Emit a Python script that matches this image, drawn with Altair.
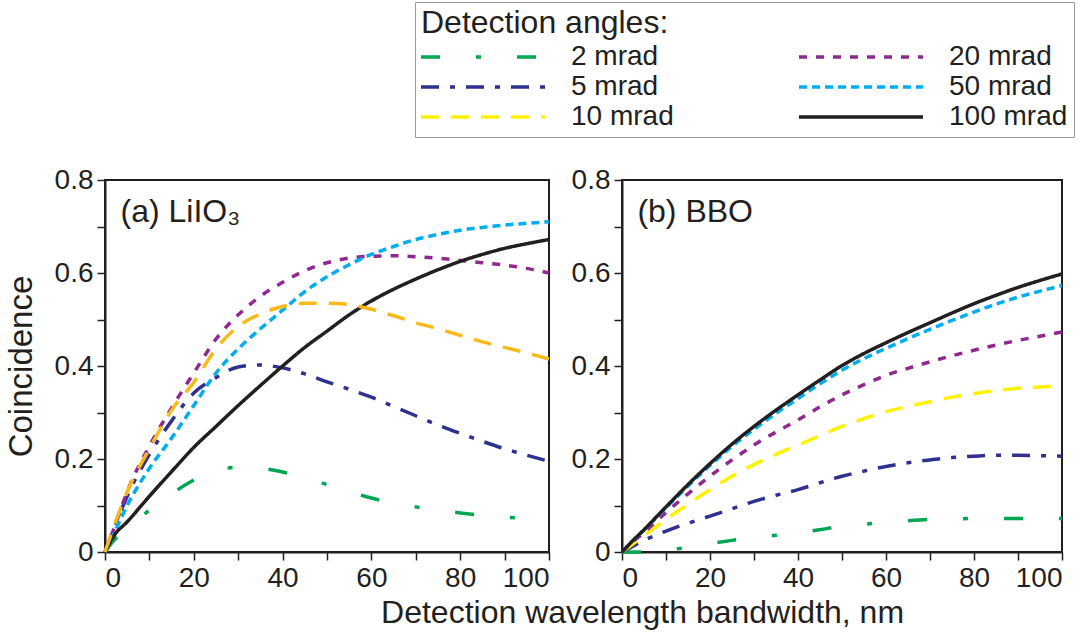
import altair as alt
import pandas as pd

# ---------------- data ----------------
x_nm = [0, 2, 5, 10, 15, 20, 25, 30, 35, 40, 45, 50, 55, 60, 65, 70, 75, 80, 85, 90, 95, 100]

# (a) LiIO3
a_2 = [0, 0.025, 0.05, 0.09, 0.125, 0.155, 0.175, 0.182, 0.18, 0.172, 0.16, 0.145, 0.13, 0.116, 0.105, 0.097, 0.09, 0.084, 0.079, 0.075, 0.072, 0.07]
a_5 = [0, 0.05, 0.12, 0.21, 0.282, 0.342, 0.375, 0.398, 0.402, 0.396, 0.383, 0.366, 0.35, 0.333, 0.313, 0.293, 0.273, 0.255, 0.238, 0.222, 0.208, 0.195]
a_10 = [0, 0.055, 0.13, 0.222, 0.305, 0.365, 0.437, 0.485, 0.512, 0.528, 0.535, 0.535, 0.532, 0.522, 0.508, 0.493, 0.48, 0.466, 0.452, 0.44, 0.428, 0.415]
a_20 = [0, 0.05, 0.13, 0.228, 0.31, 0.385, 0.458, 0.51, 0.55, 0.58, 0.605, 0.622, 0.632, 0.636, 0.637, 0.635, 0.632, 0.627, 0.622, 0.617, 0.61, 0.60]
a_50 = [0, 0.04, 0.1, 0.18, 0.245, 0.315, 0.385, 0.437, 0.48, 0.52, 0.56, 0.592, 0.618, 0.64, 0.657, 0.672, 0.683, 0.692, 0.698, 0.703, 0.707, 0.71]
a_100 = [0, 0.035, 0.065, 0.12, 0.173, 0.225, 0.27, 0.315, 0.358, 0.40, 0.44, 0.475, 0.51, 0.54, 0.565, 0.587, 0.607, 0.625, 0.64, 0.653, 0.663, 0.672]

# (b) BBO
b_2 = [0, 0.0, 0.0, 0.004, 0.01, 0.018, 0.025, 0.031, 0.036, 0.041, 0.048, 0.056, 0.06, 0.063, 0.067, 0.07, 0.071, 0.072, 0.072, 0.072, 0.072, 0.072]
b_5 = [0, 0.01, 0.025, 0.045, 0.062, 0.077, 0.093, 0.109, 0.122, 0.134, 0.149, 0.163, 0.174, 0.184, 0.192, 0.198, 0.203, 0.206, 0.208, 0.208, 0.207, 0.206]
b_10 = [0, 0.014, 0.035, 0.07, 0.103, 0.134, 0.163, 0.188, 0.21, 0.23, 0.25, 0.27, 0.287, 0.302, 0.313, 0.323, 0.333, 0.341, 0.347, 0.352, 0.355, 0.357]
b_20 = [0, 0.018, 0.042, 0.085, 0.125, 0.163, 0.198, 0.23, 0.258, 0.284, 0.312, 0.338, 0.36, 0.38, 0.395, 0.409, 0.422, 0.434, 0.445, 0.455, 0.464, 0.473]
b_50 = [0, 0.02, 0.047, 0.095, 0.142, 0.186, 0.227, 0.264, 0.298, 0.33, 0.362, 0.391, 0.416, 0.438, 0.459, 0.479, 0.498, 0.516, 0.533, 0.548, 0.561, 0.573]
b_100 = [0, 0.02, 0.048, 0.097, 0.145, 0.19, 0.232, 0.27, 0.305, 0.338, 0.37, 0.401, 0.427, 0.45, 0.472, 0.493, 0.514, 0.534, 0.552, 0.569, 0.584, 0.598]

angles = ["2 mrad", "5 mrad", "10 mrad", "20 mrad", "50 mrad", "100 mrad"]
line_colors = ["#00a651", "#2e3192", "#fff200", "#92278f", "#00aeef", "#231f20"]
line_dashes = [[19, 36, 5, 36], [18, 11, 5, 11], [18, 12], [8, 9], [8, 5], [1, 0]]
gold_10_mrad_a = "#f9b918"

x_tick_values = [0, 10, 20, 30, 40, 50, 60, 70, 80, 90, 100]
y_tick_values = [0, 0.1, 0.2, 0.3, 0.4, 0.5, 0.6, 0.7, 0.8]

panel_labels = ["(a) LiIO\u2083", "(b) BBO"]
label_pos_x = [3.5]
label_pos_y = [0.71]

FONT = "Liberation Sans"
INK = "#231f20"


def long_df(series):
    rows = []
    for name, vals in zip(angles, series):
        for xv, yv in zip(x_nm, vals):
            rows.append({"nm": xv, "c": yv, "angle": name})
    return pd.DataFrame(rows)


df_a = long_df([a_2, a_5, a_10, a_20, a_50, a_100])
df_b = long_df([b_2, b_5, b_10, b_20, b_50, b_100])

legend = alt.Legend(
    title="Detection angles:",
    orient="none",
    legendX=310,
    legendY=-178,
    columns=2,
    columnPadding=118,
    rowPadding=2,
    padding=6,
    symbolType="M-1.4,0H11",
    symbolSize=400,
    symbolStrokeWidth=3.5,
    labelOffset=122,
    labelFontSize=28,
    labelFont=FONT,
    labelColor=INK,
    labelLimit=300,
    titleFontSize=32,
    titleFont=FONT,
    titleFontWeight="normal",
    titleColor=INK,
    titlePadding=3,
    titleLimit=500,
    strokeColor="#9a9a9a",
    fillColor="white",
)

color_scale = alt.Scale(domain=angles, range=line_colors)
dash_scale = alt.Scale(domain=angles, range=line_dashes)

x_enc = alt.X(
    "nm:Q",
    scale=alt.Scale(domain=[0, 100], nice=False),
    axis=alt.Axis(
        values=x_tick_values,
        labelExpr="datum.value % 20 === 0 ? datum.label : ''",
        title=None,
    ),
)


def y_enc(title):
    kw = dict(
        values=y_tick_values,
        labelExpr="round(datum.value*10) % 2 === 0 ? format(datum.value, '~g') : ''",
    )
    kw["title"] = title if title else None
    return alt.Y("c:Q", scale=alt.Scale(domain=[0, 0.8], nice=False), axis=alt.Axis(**kw))


def panel(df, label, ytitle, width, gold=False):
    base = alt.Chart(df)
    main = base.transform_filter("datum.angle !== '10 mrad'") if gold else base
    lines = main.mark_line(strokeWidth=3.5, interpolate="monotone", strokeCap="butt").encode(
        x=x_enc,
        y=y_enc(ytitle),
        color=alt.Color("angle:N", scale=color_scale, legend=legend),
        strokeDash=alt.StrokeDash("angle:N", scale=dash_scale, legend=legend),
    )
    layers = [lines]
    if gold:
        gold_line = base.transform_filter("datum.angle === '10 mrad'").mark_line(
            strokeWidth=3.5, interpolate="monotone", strokeCap="butt", color=gold_10_mrad_a
        ).encode(
            x="nm:Q",
            y="c:Q",
            strokeDash=alt.StrokeDash("angle:N", scale=dash_scale, legend=legend),
        )
        layers.append(gold_line)
    lab_df = pd.DataFrame({"nm": label_pos_x, "c": label_pos_y, "t": [label]})
    txt = alt.Chart(lab_df).mark_text(
        align="left", baseline="alphabetic", fontSize=32, font=FONT, color=INK
    ).encode(x="nm:Q", y="c:Q", text="t:N")
    layers.append(txt)
    return alt.layer(*layers).properties(width=width, height=372)


pa = panel(df_a, panel_labels[0], "Coincidence", 444, gold=True)
pb = panel(df_b, panel_labels[1], None, 440)

chart = alt.hconcat(pa, pb, spacing=13).properties(
    title=alt.TitleParams(
        "Detection wavelength bandwidth, nm",
        orient="bottom",
        anchor="start",
        dx=377,
        fontSize=32,
        font=FONT,
        fontWeight="normal",
        color=INK,
        offset=5,
    ),
    padding={"left": 4, "top": 1, "right": 0, "bottom": 2},
    background="white",
).configure_view(
    stroke=INK, strokeWidth=2
).configure_axis(
    labelFont=FONT,
    labelFontSize=28,
    labelColor=INK,
    titleFont=FONT,
    titleFontSize=33,
    titleFontWeight="normal",
    titleColor=INK,
    titlePadding=16,
    tickSize=8,
    tickWidth=1.5,
    tickColor=INK,
    domainColor=INK,
    domainWidth=2,
    labelPadding=4,
    grid=False,
)

chart.save("out.html", embed_options={"renderer": "svg", "actions": False})
